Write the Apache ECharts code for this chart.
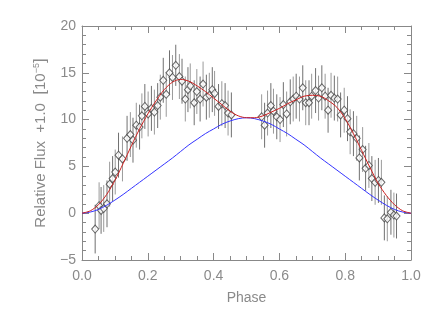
<!DOCTYPE html>
<html><head><meta charset="utf-8">
<script src="https://cdn.jsdelivr.net/npm/echarts@6/dist/echarts.min.js"></script>
<style>html,body{margin:0;padding:0;background:#fff}#c{width:436px;height:312px}</style>
</head><body><div id="c"></div>
<script>
// Observed phases
const phases = [0.040,0.052,0.058,0.066,0.076,0.084,0.093,0.101,0.111,0.123,0.137,0.147,0.155,0.165,0.175,0.182,0.191,0.201,0.211,0.220,0.230,0.238,0.247,0.256,0.266,0.275,0.285,0.296,0.304,0.314,0.322,0.329,0.341,0.349,0.359,0.368,0.378,0.387,0.396,0.403,0.415,0.425,0.435,0.444,0.454,
0.546,0.555,0.564,0.574,0.582,0.592,0.602,0.612,0.622,0.633,0.642,0.651,0.661,0.671,0.680,0.690,0.698,0.710,0.719,0.729,0.739,0.748,0.757,0.767,0.777,0.786,0.797,0.807,0.815,0.825,0.835,0.843,0.853,0.862,0.872,0.881,0.891,0.901,0.910,0.919,0.928,0.939,0.948,0.956];
// Observed relative flux
const flux = [-1.7,0.8,0.3,0.5,1.0,3.1,3.7,4.4,6.2,5.8,8.0,8.4,7.8,9.4,9.2,10.4,11.4,10.6,11.2,10.8,11.5,12.4,14.2,12.7,15.0,14.5,15.8,14.6,14.1,12.2,13.2,13.6,11.8,13.0,12.2,13.8,12.4,12.6,13.2,12.8,11.4,11.7,11.5,10.7,10.5,
10.3,9.4,10.7,11.5,10.9,10.3,10.0,11.6,10.6,11.9,12.2,12.5,12.2,13.4,11.8,11.8,12.5,13.1,12.3,13.4,12.5,11.0,12.6,12.3,12.2,10.5,11.0,10.1,8.7,8.5,8.0,5.9,6.8,4.8,5.1,3.7,3.3,3.5,3.3,-0.5,-0.6,0.1,-0.2,-0.3];
// 1-sigma errors
const errs = [2.6,2.5,2.5,2.5,2.5,2.4,2.4,2.4,2.4,2.4,2.4,2.4,2.4,2.4,2.4,2.4,2.4,2.4,2.4,2.4,2.4,2.4,2.4,2.4,2.4,2.4,2.2,2.4,2.4,2.4,2.4,2.4,2.4,2.4,2.4,2.4,2.4,2.4,2.4,2.4,2.4,2.4,2.4,2.4,2.4,
2.4,2.4,2.4,2.4,2.4,2.4,2.4,2.4,2.4,2.4,2.4,2.4,2.4,2.4,2.4,2.4,2.4,2.4,2.4,2.4,2.4,2.4,2.4,2.4,2.4,2.4,2.4,2.4,2.4,2.4,2.4,2.4,2.4,2.4,2.4,2.4,2.4,2.4,2.4,2.4,2.4,2.4,2.4,2.4];
// Model curves
const modelPhase = [0,0.025,0.05,0.075,0.1,0.125,0.15,0.175,0.2,0.225,0.25,0.275,0.3,0.325,0.35,0.375,0.4,0.425,0.45,0.475,0.5,0.525,0.55,0.575,0.6,0.625,0.65,0.675,0.7,0.725,0.75,0.775,0.8,0.825,0.85,0.875,0.9,0.925,0.95,0.975,1.0];
const totalModel = [0,0.25,0.9,2.0,3.5,5.3,7.2,9.0,10.6,12.0,13.2,14.0,14.3,14.1,13.6,13.0,12.3,11.6,10.9,10.4,10.2,10.2,10.4,10.8,11.2,11.7,12.1,12.5,12.6,12.5,12.0,11.3,10.1,8.5,6.7,4.9,3.2,1.9,0.9,0.25,0];
const planetModel = [0,0.12,0.4,0.85,1.4,2.0,2.65,3.3,3.95,4.6,5.25,5.9,6.6,7.3,7.9,8.5,9.0,9.5,9.85,10.1,10.2,10.1,9.85,9.5,9.0,8.5,7.9,7.3,6.6,5.9,5.25,4.6,3.95,3.3,2.65,2.0,1.4,0.85,0.4,0.12,0];
const xTicks = [0,0.2,0.4,0.6,0.8,1.0];
const yTicks = [-5,0,5,10,15,20];

const axisCol = '#888';
const txt = '#8a8a8a';
const font = 'Liberation Sans, DejaVu Sans, sans-serif';
const fmtNum = v => String(v).replace('-', '\u2212');

const chart = echarts.init(document.getElementById('c'), null, {renderer:'canvas'});
function ax(extra, split){
  return Object.assign({
    type:'value',
    axisLine:{show:true,onZero:false,lineStyle:{color:axisCol,width:1}},
    axisTick:{show:true,inside:true,length:7,lineStyle:{color:axisCol}},
    minorTick:{show:true,splitNumber:split,length:4,lineStyle:{color:axisCol}},
    splitLine:{show:false}
  }, extra);
}
chart.setOption({
  animation:false,
  grid:{left:82,right:25,top:26,bottom:52},
  xAxis:[
    ax({min:0,max:1,interval:0.2,position:'bottom',
      axisLabel:{color:txt,fontFamily:font,fontSize:14,margin:9,formatter:v=>v.toFixed(1)},
      name:'Phase',nameLocation:'middle',nameGap:31,
      nameTextStyle:{color:txt,fontFamily:font,fontSize:14}}, 4),
    ax({min:0,max:1,interval:0.2,position:'top',axisLabel:{show:false}}, 4)
  ],
  yAxis:[
    ax({min:-5,max:20,interval:5,position:'left',
      axisLabel:{color:txt,fontFamily:font,fontSize:14,margin:6,formatter:v=>fmtNum(v)},
      name:'{a|Relative Flux  +1.0  }{b|[}{a|10}{s|\u22125}{b|]}',nameLocation:'middle',nameGap:33,nameRotate:90,
      nameTextStyle:{color:txt,fontFamily:font,fontSize:15,
        rich:{a:{color:txt,fontFamily:font,fontSize:15},b:{color:txt,fontFamily:font,fontSize:17},
              s:{color:txt,fontFamily:font,fontSize:9,verticalAlign:'top',padding:[0,0,8,0]}}}}, 5),
    ax({min:-5,max:20,interval:5,position:'right',axisLabel:{show:false}}, 5)
  ],
  series:[
    {type:'custom',xAxisIndex:0,yAxisIndex:0,z:2,
      data:phases.map((p,i)=>[p,flux[i]-errs[i],flux[i]+errs[i]]),
      renderItem:(params,api)=>{
        const a=api.coord([api.value(0),api.value(1)]);
        const b=api.coord([api.value(0),api.value(2)]);
        return {type:'line',shape:{x1:a[0],y1:a[1],x2:b[0],y2:b[1]},
          style:{stroke:params.dataIndex%2?'#9a9a9a':'#707070',lineWidth:1}};
      }},
    {type:'scatter',xAxisIndex:0,yAxisIndex:0,z:3,symbol:'diamond',symbolSize:[7,8],
      data:phases.map((p,i)=>[p,flux[i]]),
      itemStyle:{color:'#fff',borderColor:'#444',borderWidth:1}},
    {type:'line',xAxisIndex:0,yAxisIndex:0,z:4,smooth:0.3,showSymbol:false,
      data:modelPhase.map((p,i)=>[p,planetModel[i]]),lineStyle:{color:'#3333ff',width:1}},
    {type:'line',xAxisIndex:0,yAxisIndex:0,z:5,smooth:0.3,showSymbol:false,
      data:modelPhase.map((p,i)=>[p,totalModel[i]]),lineStyle:{color:'#cc1f1f',width:1}}
  ]
});
</script></body></html>
